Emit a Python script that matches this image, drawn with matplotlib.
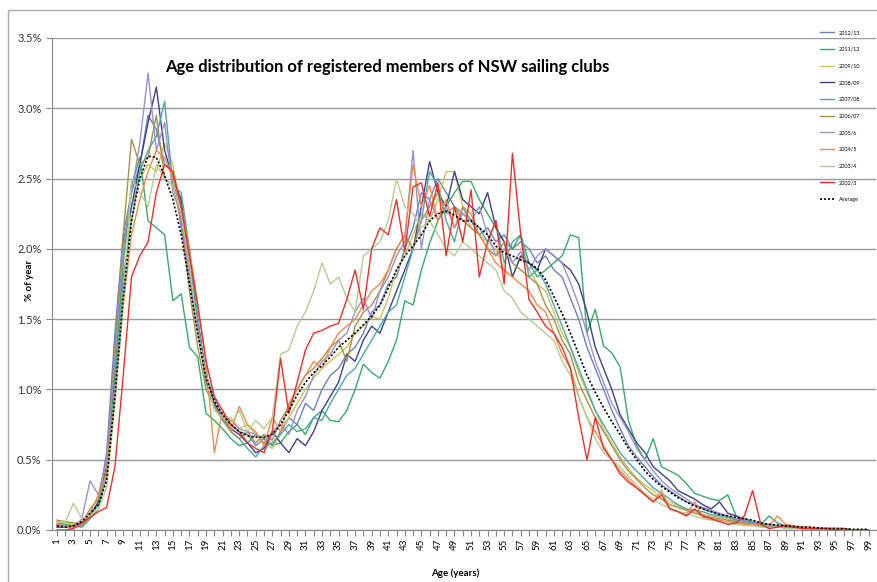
import matplotlib
matplotlib.use('Agg')
import matplotlib.pyplot as plt
from matplotlib.patches import Rectangle
from matplotlib.ticker import FuncFormatter

plt.rcParams['font.family'] = ['Lato', 'DejaVu Sans']

# ages 1..99
ages = list(range(1, 100))

# % of members per age
s2012_13 = [0.03,0.03,0.02,0.05,0.10,0.20,0.55,1.40,2.10,2.40,
            2.60,2.95,2.85,2.60,2.55,2.15,1.80,1.40,1.05,0.90,
            0.80,0.75,0.70,0.68,0.60,0.65,0.60,0.70,0.80,0.75,
            0.90,0.85,1.00,1.10,1.15,1.25,1.30,1.40,1.55,1.60,
            1.75,1.80,2.00,2.15,2.40,2.35,2.50,2.40,2.30,2.25,
            2.20,2.10,2.15,2.05,2.10,2.00,2.05,2.00,1.90,1.95,
            1.85,1.80,1.65,1.50,1.30,1.15,1.00,0.85,0.72,0.60,
            0.52,0.45,0.38,0.32,0.28,0.24,0.20,0.18,0.15,0.13,
            0.11,0.10,0.08,0.07,0.06,0.05,0.04,0.03,0.03,0.02,
            0.02,0.01,0.01,0.01,0.01,0.01,0.00,0.00,0.00]
s2011_12 = [0.05,0.04,0.03,0.02,0.08,0.15,0.40,1.10,1.90,2.45,
            2.65,2.20,2.15,2.10,1.63,1.68,1.30,1.23,0.83,0.78,
            0.72,0.65,0.60,0.62,0.68,0.65,0.60,0.62,0.70,0.75,
            0.68,0.80,0.85,0.78,0.77,0.85,1.00,1.18,1.12,1.08,
            1.20,1.35,1.63,1.60,1.85,2.04,2.20,2.30,2.40,2.48,
            2.48,2.35,2.25,2.15,2.05,2.00,2.10,1.90,1.80,1.85,
            1.90,1.95,2.10,2.08,1.40,1.57,1.31,1.26,1.16,0.78,
            0.60,0.50,0.65,0.45,0.42,0.39,0.33,0.26,0.24,0.22,
            0.21,0.25,0.10,0.08,0.06,0.04,0.10,0.05,0.03,0.02,
            0.02,0.01,0.01,0.01,0.01,0.00,0.00,0.00,0.00]
s2009_10 = [0.06,0.05,0.04,0.03,0.10,0.20,0.38,1.00,1.70,2.30,
            2.50,2.60,2.55,2.75,2.60,2.25,1.85,1.45,1.10,0.88,
            0.78,0.80,0.72,0.75,0.68,0.62,0.58,0.68,0.80,0.90,
            1.00,1.08,1.15,1.20,1.25,1.30,1.40,1.45,1.52,1.50,
            1.65,1.85,1.95,2.10,2.25,2.20,2.35,2.55,2.55,2.30,
            2.15,2.10,2.05,2.00,1.85,1.80,1.95,1.85,1.75,1.70,
            1.55,1.40,1.30,1.12,0.98,0.85,0.72,0.62,0.52,0.44,
            0.37,0.32,0.28,0.22,0.20,0.17,0.15,0.13,0.11,0.10,
            0.09,0.08,0.06,0.05,0.04,0.04,0.03,0.02,0.02,0.02,
            0.01,0.01,0.01,0.01,0.01,0.00,0.00,0.00,0.00]
s2008_09 = [0.02,0.02,0.03,0.05,0.10,0.20,0.45,1.20,2.05,2.30,
            2.60,2.90,3.15,2.70,2.50,2.35,1.90,1.50,1.10,0.90,
            0.80,0.72,0.68,0.62,0.55,0.58,0.70,0.62,0.55,0.65,
            0.60,0.70,0.85,0.95,1.05,1.25,1.20,1.35,1.45,1.40,
            1.55,1.70,1.85,2.00,2.30,2.62,2.40,2.30,2.55,2.35,
            2.30,2.25,2.40,2.15,2.05,1.80,1.95,1.90,1.85,2.00,
            1.95,1.90,1.85,1.75,1.55,1.30,1.15,1.00,0.82,0.72,
            0.62,0.55,0.45,0.40,0.35,0.28,0.25,0.22,0.18,0.15,
            0.20,0.12,0.10,0.07,0.05,0.04,0.03,0.03,0.02,0.02,
            0.02,0.01,0.01,0.01,0.01,0.00,0.00,0.00,0.00]
s2007_08 = [0.04,0.03,0.02,0.03,0.10,0.18,0.40,1.00,1.80,2.20,
            2.55,2.70,2.80,3.05,2.45,2.40,2.00,1.50,1.05,0.88,
            0.78,0.70,0.65,0.58,0.52,0.60,0.62,0.68,0.75,0.70,
            0.72,0.80,0.78,0.90,1.00,1.10,1.15,1.25,1.35,1.45,
            1.55,1.60,1.80,2.00,2.20,2.55,2.45,2.20,2.05,2.30,
            2.20,2.15,2.05,2.20,1.90,2.05,2.10,1.80,1.85,1.75,
            1.60,1.45,1.30,1.15,1.00,0.85,0.75,0.65,0.55,0.48,
            0.42,0.36,0.30,0.26,0.22,0.18,0.15,0.14,0.13,0.11,
            0.10,0.09,0.07,0.06,0.05,0.04,0.03,0.03,0.02,0.02,
            0.02,0.01,0.01,0.01,0.01,0.01,0.00,0.00,0.00]
s2006_07 = [0.07,0.06,0.05,0.05,0.15,0.22,0.42,1.30,2.10,2.78,
            2.60,2.65,2.95,2.50,2.45,2.20,1.70,1.30,1.00,0.88,
            0.80,0.70,0.65,0.70,0.62,0.68,0.64,0.78,0.88,1.00,
            1.10,1.15,1.22,1.30,1.35,1.20,1.45,1.55,1.60,1.70,
            1.85,2.00,2.10,2.00,2.20,2.30,2.40,2.25,2.30,2.20,
            2.15,2.10,2.00,1.95,2.05,1.90,1.85,1.80,1.75,1.60,
            1.50,1.35,1.25,1.05,0.92,0.80,0.70,0.60,0.50,0.42,
            0.36,0.30,0.25,0.22,0.18,0.16,0.14,0.12,0.10,0.09,
            0.08,0.07,0.06,0.05,0.04,0.03,0.03,0.02,0.02,0.02,
            0.01,0.01,0.01,0.01,0.00,0.00,0.00,0.00,0.00]
s2005_6 = [0.03,0.02,0.01,0.08,0.35,0.25,0.50,1.20,2.00,2.40,
           2.75,3.25,2.70,2.90,2.40,2.25,1.80,1.45,1.10,0.95,
           0.80,0.78,0.72,0.70,0.68,0.62,0.70,0.75,0.68,0.85,
           0.95,1.10,1.20,1.25,1.35,1.40,1.55,1.65,1.50,1.70,
           1.80,1.95,2.05,2.70,2.00,2.35,2.20,2.30,2.15,2.25,
           2.20,2.30,2.10,1.95,2.00,1.90,1.98,1.85,1.95,2.00,
           1.95,1.90,1.76,1.60,1.40,1.20,1.05,0.90,0.80,0.70,
           0.58,0.50,0.42,0.35,0.30,0.26,0.22,0.18,0.16,0.14,
           0.12,0.10,0.08,0.07,0.06,0.05,0.04,0.03,0.03,0.02,
           0.02,0.01,0.01,0.01,0.01,0.01,0.00,0.00,0.00]
s2004_5 = [0.04,0.03,0.02,0.04,0.12,0.25,0.40,0.95,1.60,2.10,
           2.35,2.55,2.70,2.65,2.50,2.30,2.00,1.60,1.20,0.55,
           0.85,0.70,0.88,0.75,0.70,0.60,0.80,0.70,0.90,1.00,
           1.10,1.20,1.15,1.30,1.40,1.45,1.50,1.60,1.70,1.75,
           1.85,2.00,2.10,2.60,2.30,2.45,2.20,2.35,2.15,2.30,
           2.25,2.10,2.00,1.90,1.85,1.80,1.75,1.70,1.60,1.55,
           1.40,1.25,1.15,0.95,0.80,0.70,0.60,0.50,0.42,0.36,
           0.30,0.25,0.20,0.28,0.15,0.13,0.11,0.20,0.09,0.08,
           0.07,0.06,0.05,0.04,0.04,0.03,0.03,0.10,0.04,0.03,
           0.02,0.02,0.01,0.01,0.01,0.01,0.00,0.00,0.00]
s2003_4 = [0.05,0.06,0.19,0.08,0.10,0.15,0.30,0.90,1.60,2.50,
           2.40,2.30,2.60,2.50,2.45,2.25,1.90,1.40,1.10,0.85,
           0.80,0.75,0.85,0.70,0.78,0.72,0.80,1.25,1.28,1.45,
           1.55,1.70,1.90,1.75,1.80,1.65,1.55,1.95,2.00,2.05,
           2.20,2.50,2.30,2.25,2.15,2.20,2.10,2.00,1.95,2.05,
           2.00,1.95,1.90,1.85,1.70,1.65,1.55,1.50,1.45,1.40,
           1.35,1.20,1.10,0.95,0.80,0.65,0.55,0.50,0.45,0.38,
           0.32,0.26,0.22,0.18,0.16,0.13,0.12,0.10,0.08,0.07,
           0.06,0.05,0.04,0.03,0.03,0.02,0.02,0.02,0.01,0.01,
           0.01,0.01,0.01,0.00,0.00,0.00,0.00,0.00,0.00]
s2002_3 = [0.00,0.00,0.01,0.05,0.09,0.13,0.16,0.45,1.10,1.80,
           1.95,2.05,2.40,2.60,2.55,2.30,1.95,1.60,1.20,0.95,
           0.85,0.75,0.70,0.62,0.58,0.55,0.70,1.22,0.83,1.05,
           1.28,1.40,1.42,1.45,1.47,1.64,1.85,1.57,2.00,2.15,
           2.10,2.35,1.98,2.44,2.47,2.23,2.47,1.95,2.30,2.05,
           2.42,1.80,2.05,2.20,1.75,2.68,2.10,1.64,1.55,1.45,
           1.40,1.30,1.15,0.80,0.50,0.80,0.58,0.50,0.40,0.34,
           0.30,0.25,0.20,0.25,0.15,0.13,0.10,0.15,0.10,0.08,
           0.06,0.04,0.05,0.10,0.28,0.04,0.01,0.02,0.03,0.02,
           0.01,0.01,0.01,0.01,0.00,0.01,0.00,0.00,0.00]
average = [0.03,0.02,0.03,0.06,0.12,0.18,0.35,0.95,1.65,2.20,
           2.50,2.66,2.65,2.52,2.35,2.10,1.75,1.40,1.08,0.92,
           0.82,0.75,0.70,0.67,0.66,0.66,0.68,0.75,0.85,0.96,
           1.05,1.12,1.17,1.23,1.30,1.35,1.40,1.46,1.52,1.60,
           1.72,1.85,1.95,2.02,2.10,2.20,2.25,2.27,2.24,2.20,
           2.20,2.15,2.10,2.02,1.97,1.95,1.92,1.90,1.86,1.78,
           1.66,1.54,1.40,1.25,1.10,0.98,0.87,0.77,0.68,0.58,
           0.50,0.42,0.36,0.31,0.27,0.23,0.20,0.17,0.15,0.13,
           0.11,0.10,0.09,0.08,0.07,0.05,0.04,0.035,0.03,0.025,
           0.02,0.02,0.015,0.01,0.01,0.01,0.005,0.005,0.005]

labels = ['2012/13', '2011/12', '2009/10', '2008/09', '2007/08',
          '2006/07', '2005/6', '2004/5', '2003/4', '2002/3']
series = [s2012_13, s2011_12, s2009_10, s2008_09, s2007_08,
          s2006_07, s2005_6, s2004_5, s2003_4, s2002_3]
colors = ['#6a82b8', '#3aa86a', '#cfc25a', '#3e4282', '#4aa8aa',
          '#a8904a', '#9a90cc', '#ec8c4c', '#b4cc94', '#e8302c']

fig = plt.figure(figsize=(8.78, 5.82), dpi=100)
ax = fig.add_axes([52/878, 1 - 530/582, 824/878, 492/582])

for vals, lab, col in zip(series, labels, colors):
    ax.plot(ages, vals, color=col, lw=1.0, label=lab)
ax.plot(ages, average, color='black', lw=1.2, ls=(0, (1.2, 1.2)), label='Average')

ax.set_xlim(0.4, 99.9)
ax.set_ylim(0, 3.5)
ax.set_yticks([0, 0.5, 1.0, 1.5, 2.0, 2.5, 3.0, 3.5])
ax.yaxis.set_major_formatter(FuncFormatter(lambda v, p: f'{v:.1f}%'))
ax.set_xticks(ages)
ax.set_xticklabels([str(a) if a % 2 == 1 else '' for a in ages], rotation=90)
ax.tick_params(axis='x', labelsize=7, length=4, width=0.8, color='#888888', pad=2)
ax.tick_params(axis='y', labelsize=8, length=4, width=0.8, color='#888888', labelcolor='#333333')
ax.grid(axis='y', color='#9a9a9a', lw=1)
ax.set_axisbelow(True)
for s in ['top', 'right']:
    ax.spines[s].set_visible(False)
for s in ['left', 'bottom']:
    ax.spines[s].set_color('#888888')

ax.text(0.407, 0.941, 'Age distribution of registered members of NSW sailing clubs',
        transform=ax.transAxes, ha='center', va='center', fontsize=12, fontweight='bold')
fig.text(30/878, 1 - 280/582, '% of year', rotation=90, ha='center', va='center',
         fontsize=7, fontweight='bold')
fig.text(455/878, 1 - 573/582, 'Age (years)', ha='center', va='center',
         fontsize=7, fontweight='bold')

leg = ax.legend(loc='upper left', bbox_to_anchor=(818/878, 1 - 28/582),
                bbox_transform=fig.transFigure, frameon=False, fontsize=4,
                handlelength=2.5, labelspacing=2.1, borderaxespad=0)

# outer chart border (right and bottom edges fall outside the image)
fig.patches.append(Rectangle((8/878, -0.1), 1.2, 1.1 - 10/582,
                             transform=fig.transFigure, fill=False,
                             edgecolor='#aaaaaa', lw=1))

fig.savefig('out.png', dpi=100)
